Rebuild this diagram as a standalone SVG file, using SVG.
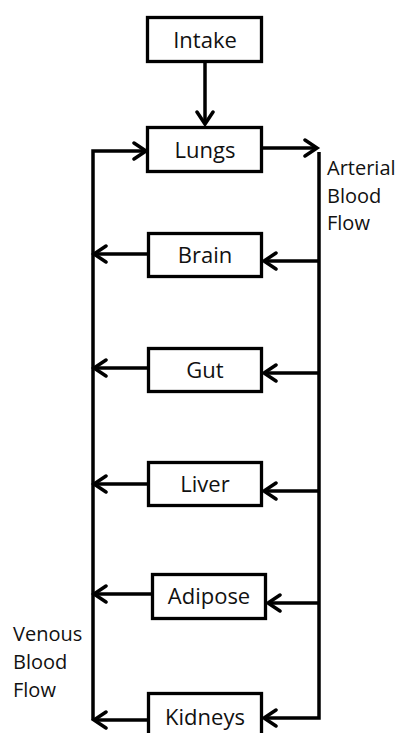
<svg xmlns="http://www.w3.org/2000/svg" width="398" height="733" viewBox="0 0 398 733">
<defs>
<style>
.box{fill:#fff;stroke:#000;stroke-width:3.3}
.lbl{font-family:"Open Sans","Noto Sans",sans-serif;font-size:22px;fill:#111;text-anchor:middle}
.side{font-family:"Open Sans","Noto Sans",sans-serif;font-size:20px;fill:#111}
.ln{fill:none;stroke:#000;stroke-width:3.5}
</style>
<marker id="ah" markerUnits="userSpaceOnUse" markerWidth="20" markerHeight="20" viewBox="-14 -10 16 20" refX="0" refY="0" orient="auto">
<path d="M-12,-8 L0,0 L-12,8" fill="none" stroke="#000" stroke-width="3.5" stroke-linecap="round" stroke-linejoin="miter"/>
</marker>
</defs>
<rect width="398" height="733" fill="#fff"/>
<g id="connectors">
<path class="ln" d="M205,63 V124" marker-end="url(#ah)"/>
<path class="ln" d="M93,720 V151 H146" marker-end="url(#ah)"/>
<path class="ln" d="M262,148 H317" marker-end="url(#ah)"/>
<path class="ln" d="M319,152 V718 H264" marker-end="url(#ah)"/>
<path class="ln" d="M147,254 H94" marker-end="url(#ah)"/>
<path class="ln" d="M319,261 H264" marker-end="url(#ah)"/>
<path class="ln" d="M147,368 H94" marker-end="url(#ah)"/>
<path class="ln" d="M319,373 H264" marker-end="url(#ah)"/>
<path class="ln" d="M147,484 H94" marker-end="url(#ah)"/>
<path class="ln" d="M319,491 H264" marker-end="url(#ah)"/>
<path class="ln" d="M151,594 H94" marker-end="url(#ah)"/>
<path class="ln" d="M319,603 H268" marker-end="url(#ah)"/>
<path class="ln" d="M147,720 H94" marker-end="url(#ah)"/>
</g>
<g id="intake"><rect class="box" x="147.5" y="17.5" width="114" height="44"/><text class="lbl" x="205" y="48">Intake</text></g>
<g id="lungs"><rect class="box" x="147.5" y="127.5" width="114" height="44"/><text class="lbl" x="205" y="158">Lungs</text></g>
<g id="brain"><rect class="box" x="148.5" y="233.5" width="113" height="43"/><text class="lbl" x="205" y="263">Brain</text></g>
<g id="gut"><rect class="box" x="148.5" y="348.5" width="113" height="43"/><text class="lbl" x="205" y="378">Gut</text></g>
<g id="liver"><rect class="box" x="148.5" y="462.5" width="113" height="43"/><text class="lbl" x="205" y="492">Liver</text></g>
<g id="adipose"><rect class="box" x="152.5" y="574.5" width="113" height="44"/><text class="lbl" x="209" y="604">Adipose</text></g>
<g id="kidneys"><rect class="box" x="148.5" y="693.5" width="113" height="44"/><text class="lbl" x="205" y="725">Kidneys</text></g>
<g id="arterial-label"><text class="side" x="327" y="175">Arterial</text><text class="side" x="327" y="203">Blood</text><text class="side" x="327" y="230">Flow</text></g>
<g id="venous-label"><text class="side" x="13" y="641">Venous</text><text class="side" x="13" y="669">Blood</text><text class="side" x="13" y="697">Flow</text></g>
</svg>
